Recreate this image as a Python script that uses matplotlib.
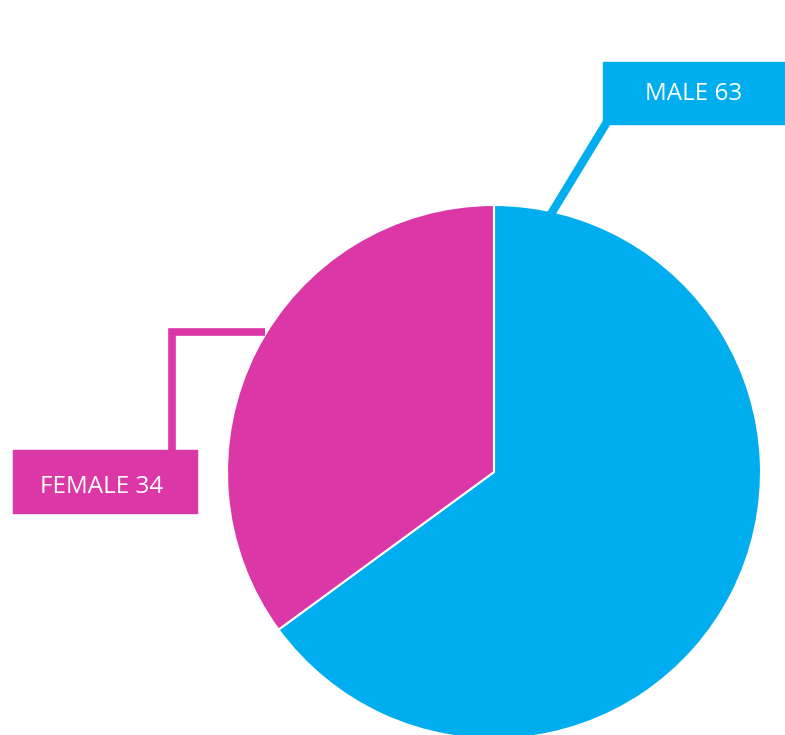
import matplotlib
matplotlib.use("Agg")
import matplotlib.pyplot as plt
from matplotlib.patches import Rectangle

categories = ["MALE", "FEMALE"]
values = [63, 34]
colors = ["#00AEEF", "#DB37A6"]

W, H = 785, 735
fig = plt.figure(figsize=(W / 100, H / 100), dpi=100)
ax = fig.add_axes([0, 0, 1, 1])
ax.set_xlim(0, W)
ax.set_ylim(0, H)
ax.set_aspect("equal")
ax.axis("off")

def Y(y):
    return H - y

cx, cy, r = 494, 472, 267
ax.pie(values, colors=colors, startangle=90, counterclock=False,
       center=(cx, Y(cy)), radius=r, frame=True,
       wedgeprops=dict(edgecolor="white", linewidth=1.5))
ax.set_xlim(0, W)
ax.set_ylim(0, H)
ax.axis("off")

font = ["Open Sans", "DejaVu Sans"]

# MALE label
ax.plot([607, 551], [Y(122), Y(214)], color=colors[0], lw=6, solid_capstyle="butt", zorder=1)
ax.add_patch(Rectangle((603, Y(124)), 200, 62, color=colors[0], zorder=2, clip_on=False))
ax.text(694, Y(94), f"{categories[0]} {values[0]}", color="white", fontsize=17.5,
        family=font, ha="center", va="center", zorder=3)

# FEMALE label
ax.plot([172, 172, 265], [Y(452), Y(332), Y(332)], color=colors[1], lw=5.5,
        solid_joinstyle="miter", solid_capstyle="butt", zorder=1)
ax.add_patch(Rectangle((13, Y(513)), 184, 63, color=colors[1], zorder=2))
ax.text(102, Y(487), f"{categories[1]} {values[1]}", color="white", fontsize=17.5,
        family=font, ha="center", va="center", zorder=3)

fig.savefig("out.png", dpi=100)
